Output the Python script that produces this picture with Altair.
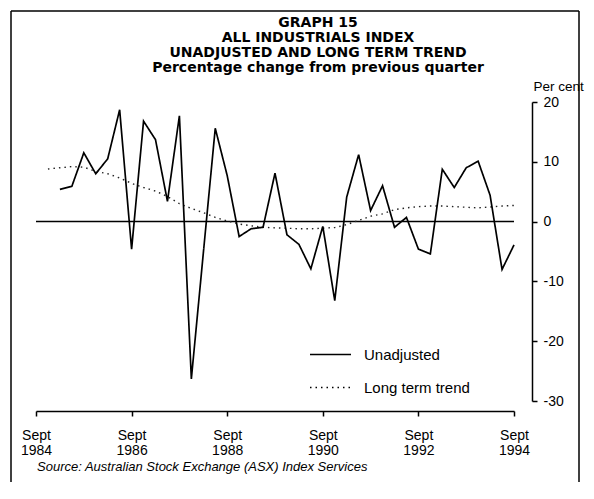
import altair as alt
import pandas as pd

FONT = "Liberation Sans"
TITLE_FONT = "DejaVu Sans"

# quarter index: 0 = Sept 1984, 40 = Sept 1994
unadj_q = list(range(2, 41))
unadj_vals = [5.4, 5.9, 11.5, 8.0, 10.5, 18.7, -4.6, 16.8, 13.7, 3.4,
              17.7, -26.3, -5.3, 15.6, 7.7, -2.5, -1.2, -0.95, 8.1, -2.2,
              -3.8, -7.9, -0.8, -13.2, 4.1, 11.2, 1.85, 6.0, -0.95, 0.7,
              -4.6, -5.4, 8.75, 5.7, 9.0, 10.1, 4.4, -8.0, -3.9]

trend_q = list(range(1, 41))
trend_vals = [8.8, 9.0, 9.2, 9.1, 8.4, 8.0, 7.3, 6.4, 5.7, 5.1,
              4.2, 3.0, 2.2, 1.5, 0.7, 0.1, -0.4, -0.7, -0.95, -1.05,
              -1.1, -1.2, -1.2, -1.1, -1.0, -0.5, 0.2, 0.9, 1.3, 2.0,
              2.3, 2.5, 2.6, 2.6, 2.5, 2.4, 2.3, 2.45, 2.6, 2.7]

series_names = ["Unadjusted", "Long term trend"]
x_tick_values = [0, 8, 16, 24, 32, 40]
y_tick_values = [-30, -25, -20, -15, -10, -5, 0, 5, 10, 15, 20]
title_lines = ["GRAPH 15", "ALL INDUSTRIALS INDEX",
               "UNADJUSTED AND LONG TERM TREND",
               "Percentage change from previous quarter"]
source_text = "Source: Australian Stock Exchange (ASX) Index Services"

df = pd.concat([
    pd.DataFrame({"q": unadj_q, "value": unadj_vals, "series": series_names[0]}),
    pd.DataFrame({"q": trend_q, "value": trend_vals, "series": series_names[1]}),
])
zero_df = pd.DataFrame({"v": [0]})

x_enc = alt.X("q:Q", scale=alt.Scale(domain=[0, 40], nice=False, zero=False),
              axis=alt.Axis(values=x_tick_values,
                            labelExpr="['Sept', '' + (1984 + datum.value / 4)]",
                            title=None, grid=False, offset=10, tickSize=5,
                            tickColor="black", domainColor="black",
                            domainWidth=1.5, tickWidth=1.5,
                            labelFont=FONT, labelFontSize=14, labelColor="black",
                            labelLineHeight=15, labelPadding=12, labelFlush=False))
y_enc = alt.Y("value:Q", scale=alt.Scale(domain=[-30, 20], nice=False, zero=False),
              axis=alt.Axis(orient="right", values=y_tick_values,
                            labelExpr="datum.value % 10 === 0 ? '' + datum.value : ''",
                            title="Per cent", titleAngle=0, titleX=1, titleY=-16,
                            titleAlign="left", titleBaseline="middle",
                            titleFont=FONT, titleFontSize=13.5, titleFontWeight="normal",
                            titleColor="black",
                            grid=False, offset=18,
                            tickSize={"condition": {"test": "datum.value % 10 === 0", "value": 5}, "value": 3},
                            tickColor="black", domainColor="black",
                            domainWidth=1.5, tickWidth=1.5,
                            labelFont=FONT, labelFontSize=14, labelColor="black",
                            labelPadding=6, labelBaseline="middle"))

dash = alt.StrokeDash("series:N",
                      scale=alt.Scale(domain=series_names, range=[[1, 0], [1.5, 4]]),
                      legend=alt.Legend(title=None, orient="none", legendX=273, legendY=231,
                                        symbolType="stroke", symbolSize=1681,
                                        symbolStrokeColor="black", symbolStrokeWidth=1.3,
                                        labelFont=FONT, labelFontSize=15, labelColor="black",
                                        labelOffset=12, rowPadding=3, padding=0))

base = alt.Chart(df).encode(x=x_enc, y=y_enc, strokeDash=dash, order="q:Q")

unadj_line = base.transform_filter(alt.datum.series == series_names[0]).mark_line(
    color="black", strokeWidth=1.7)
trend_line = base.transform_filter(alt.datum.series == series_names[1]).mark_line(
    color="#222222", strokeWidth=1.4)

zero_rule = alt.Chart(zero_df).mark_rule(color="black", strokeWidth=1.5).encode(y="v:Q")

one = alt.Data(values=[{}])
frame_left = alt.Chart(one).mark_rule(color="black", strokeWidth=1.5).encode(
    x=alt.value(-25), y=alt.value(-91), y2=alt.value(380))
frame_top = alt.Chart(one).mark_rule(color="black", strokeWidth=1.5).encode(
    x=alt.value(-25), x2=alt.value(543), y=alt.value(-91))
frame_right = alt.Chart(one).mark_rule(color="black", strokeWidth=1.5).encode(
    x=alt.value(543), y=alt.value(-91), y2=alt.value(380))

source = alt.Chart(one).mark_text(align="left", baseline="middle", font=FONT,
                                  fontSize=13, fontStyle="italic", color="black").encode(
    x=alt.value(1), y=alt.value(365), text=alt.value(source_text))

chart = alt.layer(zero_rule, trend_line, unadj_line, frame_left, frame_top, frame_right, source).properties(
    width=478, height=299,
    padding={"left": 2, "top": 2, "right": 2, "bottom": 0},
    title=alt.TitleParams(text=title_lines, font=TITLE_FONT, fontSize=14, fontWeight="bold",
                          color="black", lineHeight=15, anchor="middle", frame="group",
                          dx=43, offset=-65),
).configure_view(stroke=None)

chart.save("out.html", embed_options={"renderer": "svg", "actions": False})
